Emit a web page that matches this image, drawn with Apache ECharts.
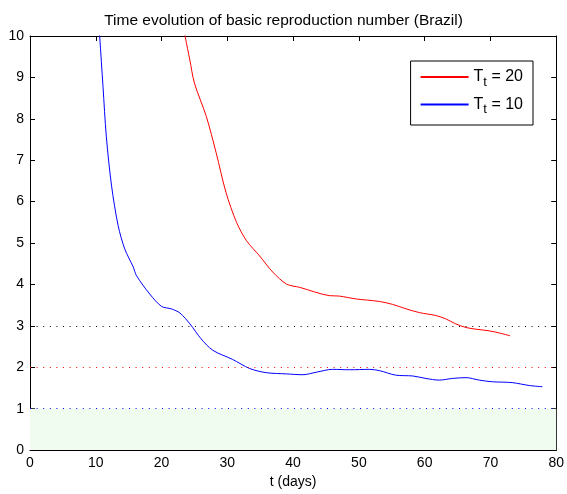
<!DOCTYPE html>
<html>
<head>
<meta charset="utf-8">
<script src="https://cdn.jsdelivr.net/npm/echarts@6/dist/echarts.min.js"></script>
<style>
  html, body { margin: 0; padding: 0; background: #fff; }
  #chart { width: 567px; height: 494px; }
</style>
</head>
<body>
<div id="chart"></div>
<script>
// Tt = 20 (red)
const redDays = [23.0, 23.6, 24.3, 25.0, 26.8, 28.3, 29.8, 31.4, 32.9, 34.9, 36.9, 39.0, 41.0, 45.5, 47.0, 49.6, 53.1, 55.1, 57.2, 59.2, 61.7, 63.2, 64.7, 66.3, 67.8, 69.8, 71.3, 73.0]
const redR = [10.5, 9.98, 9.42, 8.86, 8.06, 7.18, 6.22, 5.5, 5.06, 4.69, 4.3, 4.01, 3.93, 3.73, 3.72, 3.65, 3.59, 3.52, 3.41, 3.32, 3.25, 3.17, 3.05, 2.96, 2.92, 2.88, 2.83, 2.76]

// Tt = 10 (blue)
const blueDays = [10.2, 10.6, 11.1, 11.6, 12.4, 13.4, 14.4, 15.7, 16.2, 18.2, 20.0, 21.5, 22.8, 24.3, 26.0, 27.8, 30.8, 33.4, 35.9, 39.0, 41.5, 43.5, 46.0, 48.6, 51.6, 53.1, 55.6, 58.2, 60.2, 62.2, 64.2, 66.3, 68.3, 70.3, 73.3, 75.9, 77.9]
const blueR = [11.0, 9.98, 8.78, 7.58, 6.38, 5.42, 4.86, 4.42, 4.21, 3.77, 3.47, 3.41, 3.31, 3.05, 2.69, 2.41, 2.19, 1.97, 1.87, 1.84, 1.82, 1.88, 1.95, 1.94, 1.95, 1.92, 1.81, 1.79, 1.73, 1.69, 1.73, 1.75, 1.69, 1.65, 1.63, 1.56, 1.53]

const xTicks = [0, 10, 20, 30, 40, 50, 60, 70, 80]
const yTicks = [0, 1, 2, 3, 4, 5, 6, 7, 8, 9, 10]
const refLines = [{ value: 3, color: '#000000' }, { value: 2, color: '#ff0000' }, { value: 1, color: '#0000ff' }]

const font = 'Liberation Sans, Arial, sans-serif'
const zip = (xs, ys) => xs.map((x, i) => [x, ys[i]])

const chart = echarts.init(document.getElementById('chart'))

// matlab style box: ticks inside on all four sides
const axisCommon = {
  type: 'value',
  axisLine: { show: true, onZero: false, lineStyle: { color: '#000', width: 1 } },
  axisTick: { show: true, inside: true, length: 5, lineStyle: { color: '#000' } },
  splitLine: { show: false },
}

chart.setOption({
  animation: false,
  backgroundColor: '#fff',
  title: {
    text: 'Time evolution of basic reproduction number (Brazil)',
    left: 'center',
    top: 8,
    textStyle: { fontFamily: font, fontSize: 15.5, fontWeight: 'normal', color: '#000' },
  },
  grid: { left: 30, right: 10, top: 36, bottom: 42 },
  legend: {
    right: 34,
    top: 61,
    orient: 'vertical',
    backgroundColor: '#fff',
    borderColor: '#000',
    borderWidth: 1,
    borderRadius: 0,
    padding: [8, 10, 9, 10],
    itemGap: 8,
    itemWidth: 48,
    itemHeight: 2,
    icon: 'rect',
    data: ['20', '10'],
    formatter: name => '{a|T}{b|t}{a| = ' + name + '}',
    textStyle: {
      fontFamily: font,
      color: '#000',
      rich: {
        a: { fontFamily: font, fontSize: 16, color: '#000', height: 24 },
        b: { fontFamily: font, fontSize: 13, color: '#000', padding: [10, 0, 0, 0] },
      },
    },
  },
  xAxis: [
    {
      ...axisCommon,
      min: 0, max: 80, interval: 10,
      name: 't (days)',
      nameLocation: 'middle',
      nameGap: 24,
      nameTextStyle: { fontFamily: font, fontSize: 14, color: '#000' },
      axisLabel: { fontFamily: font, fontSize: 14, color: '#000', margin: 6, formatter: v => xTicks.includes(v) ? v : '' },
    },
    { ...axisCommon, position: 'top', min: 0, max: 80, interval: 10, axisLabel: { show: false } },
  ],
  yAxis: [
    {
      ...axisCommon,
      min: 0, max: 10, interval: 1,
      axisLabel: { fontFamily: font, fontSize: 14, color: '#000', margin: 6, formatter: v => yTicks.includes(v) ? v : '' },
    },
    { ...axisCommon, position: 'right', min: 0, max: 10, interval: 1, axisLabel: { show: false } },
  ],
  series: [
    {
      name: 'area',
      type: 'line',
      data: [],
      markArea: {
        silent: true,
        itemStyle: { color: '#f1fcf1' },
        data: [[{ yAxis: 0 }, { yAxis: 1 }]],
      },
      markLine: {
        silent: true,
        symbol: 'none',
        label: { show: false },
        data: refLines.map(r => ({
          yAxis: r.value,
          lineStyle: { color: r.color, type: [1, 5.6], width: 1 },
        })),
      },
    },
    {
      name: '20',
      type: 'line',
      data: zip(redDays, redR),
      smooth: 0.3,
      showSymbol: false,
      color: '#ff0000',
      lineStyle: { color: '#ff0000', width: 1 },
      clip: true,
    },
    {
      name: '10',
      type: 'line',
      data: zip(blueDays, blueR),
      smooth: 0.3,
      showSymbol: false,
      color: '#0000ff',
      lineStyle: { color: '#0000ff', width: 1 },
      clip: true,
    },
  ],
})
</script>
</body>
</html>
